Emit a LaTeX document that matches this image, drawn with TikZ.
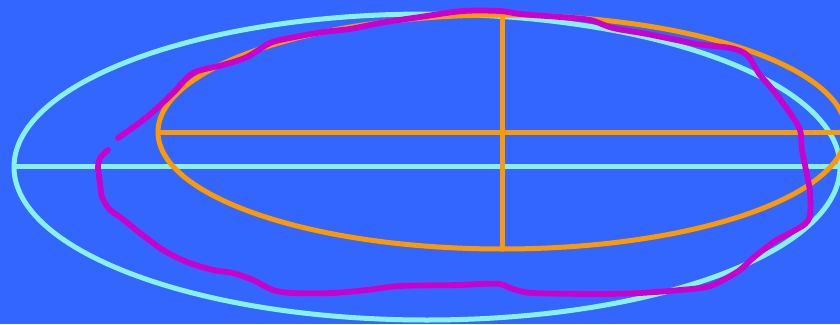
\documentclass[tikz,border=0pt]{standalone}
\definecolor{bgblue}{RGB}{51,102,255}
\definecolor{cyanline}{RGB}{136,242,232}
\definecolor{orangeline}{RGB}{255,153,0}
\definecolor{magline}{RGB}{204,0,204}
\tikzset{
  cyanstroke/.style={draw=cyanline,line width=5pt},
  orangestroke/.style={draw=orangeline,line width=5pt},
  magstroke/.style={draw=magline,line width=5.8pt,line cap=round,line join=round},
}
\begin{document}
\begin{tikzpicture}[x=1pt,y=-1pt]
\useasboundingbox (0,0) rectangle (840,324);
\clip (0,0) rectangle (840,324);
\fill[bgblue] (0,0) rectangle (840,324);
% cyan ellipse and axis
\coordinate (cc) at (427,167);
\draw[cyanstroke] (cc) ellipse [x radius=413, y radius=153];
\coordinate (cl) at (14,166);
\coordinate (cr) at (846,166);
\draw[cyanstroke] (cl) -- (cr);
% orange ellipse and axes
\coordinate (oc) at (502,132);
\draw[orangestroke] (oc) ellipse [x radius=344, y radius=117];
\coordinate (ol) at (158,132);
\coordinate (or) at (850,132);
\coordinate (ot) at (502,15);
\coordinate (ob) at (502,249);
\draw[orangestroke] (ol) -- (or);
\draw[orangestroke] (ot) -- (ob);
% magenta freehand loop
\draw[magstroke] plot[smooth, tension=0.5] coordinates {
 (118,138) (147,117) (173,93) (193,73) (223,65) (247,57) (270,43) (290,38)
 (323,32) (350,29) (380,23) (420,17) (463,11) (500,11) (520,14) (560,17)
 (590,20) (613,28) (647,34) (697,44) (730,48) (747,55) (760,75) (773,90)
 (790,113) (800,130) (802,150) (807,175) (810,192) (810,215) (805,224)
 (790,233) (775,241) (753,258) (740,270) (723,280) (707,287) (680,290)
 (640,293) (600,294) (533,293) (513,289) (500,284) (480,284) (460,285)
 (400,286) (367,290) (333,293) (293,293) (273,290) (253,280) (233,273)
 (213,270) (187,262) (163,250) (140,233) (120,217) (110,210) (102,197)
 (100,183) (98,167) (100,158) (108,150)
};
\end{tikzpicture}
\end{document}
